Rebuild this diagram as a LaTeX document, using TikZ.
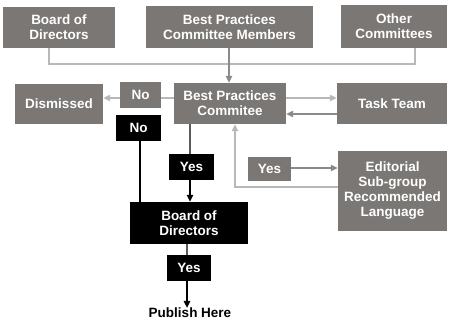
\documentclass[tikz,border=0pt]{standalone}
\usepackage{fontspec}
\setmainfont{Liberation Sans}
\usetikzlibrary{arrows.meta}
\definecolor{boxgray}{HTML}{7A7775}
\definecolor{lightline}{HTML}{B8B8B8}
\definecolor{midline}{HTML}{8A8A8A}
\definecolor{darkline}{HTML}{5A5A5A}
\tikzset{
  gbox/.style={fill=boxgray, text=white, inner sep=0pt, align=center, font=\fontsize{13.5}{15}\selectfont\bfseries},
  bbox/.style={fill=black, text=white, inner sep=0pt, align=center, font=\fontsize{13.5}{15}\selectfont\bfseries},
  tip/.style={-{Triangle[length=7pt,width=6.5pt]}},
  conn/.style={line width=1.4pt},
}
\begin{document}
\begin{tikzpicture}[x=1pt,y=-1pt]
\useasboundingbox (0,0) rectangle (450,324);
% top row
\node[gbox, minimum width=112pt, minimum height=41pt] (bodtop) at (59,27.5) {Board of\\Directors};
\node[gbox, minimum width=167pt, minimum height=42pt] (bpcm) at (229.5,27) {Best Practices\\Committee Members};
\node[gbox, minimum width=106pt, minimum height=43pt] (other) at (394,26.5) {Other\\Committees};
% second row
\node[gbox, minimum width=88pt, minimum height=40pt] (dism) at (59,104) {Dismissed};
\node[gbox, minimum width=41pt, minimum height=26pt] (nog) at (140.5,95) {No};
\node[gbox, minimum width=112pt, minimum height=41pt] (bpc) at (230,103.5) {Best Practices\\Commitee};
\node[gbox, minimum width=110pt, minimum height=41pt] (task) at (392,103.5) {Task Team};
% lower part
\node[bbox, minimum width=45pt, minimum height=26pt] (nob) at (138.5,128) {No};
\node[bbox, minimum width=45pt, minimum height=26pt] (yes1) at (191.5,167) {Yes};
\node[bbox, minimum width=118pt, minimum height=42pt] (bodb) at (189,223) {Board of\\Directors};
\node[bbox, minimum width=44pt, minimum height=26pt] (yes2) at (189,268) {Yes};
\node[inner sep=0pt, font=\fontsize{13.5}{15}\selectfont\bfseries] (pub) at (190,313) {Publish Here};
\node[gbox, minimum width=43pt, minimum height=24pt] (yes3) at (269.5,169) {Yes};
\node[gbox, minimum width=109pt, minimum height=80pt] (edit) at (392.5,191) {Editorial\\Sub-group\\Recommended\\Language};
% top collector line
\coordinate (j1) at (49,64);
\coordinate (j2) at (415,64);
\draw[conn, lightline] (bodtop.south -| j1) -- (j1) -- (j2) -- (other.south -| j2);
\draw[conn, midline, tip] (bpcm.south -| 229,0) -- (bpc.north -| 229,0);
% left flow
\coordinate (ya) at (0,98);
\draw[conn, lightline] (bpc.west |- ya) -- (nog.east |- ya);
\draw[conn, lightline, tip] (nog.west |- ya) -- (dism.east |- ya);
% task team
\draw[conn, lightline, tip] (bpc.east |- ya) -- (task.west |- ya);
\coordinate (yb) at (0,114);
\draw[conn, midline, tip] (task.west |- yb) -- (bpc.east |- yb);
% No black to board
\draw[conn, black] (nob.south -| 140,0) -- (bodb.north -| 140,0);
% Yes path
\draw[conn, darkline] (bpc.south -| 190,0) -- (yes1.north -| 190,0);
\draw[conn, black, tip] (yes1.south -| 190,0) -- (bodb.north -| 190,0);
\draw[conn, darkline] (bodb.south -| 187,0) -- (yes2.north -| 187,0);
\draw[conn, black, tip] (yes2.south -| 187,0) -- (pub.north -| 187,0);
% editorial
\coordinate (yc) at (0,168);
\draw[conn, midline, tip] (yes3.east |- yc) -- (edit.west |- yc);
\coordinate (k) at (235,187);
\draw[conn, lightline, tip] (edit.west |- k) -- (k) -- (bpc.south -| k);
\end{tikzpicture}
\end{document}
